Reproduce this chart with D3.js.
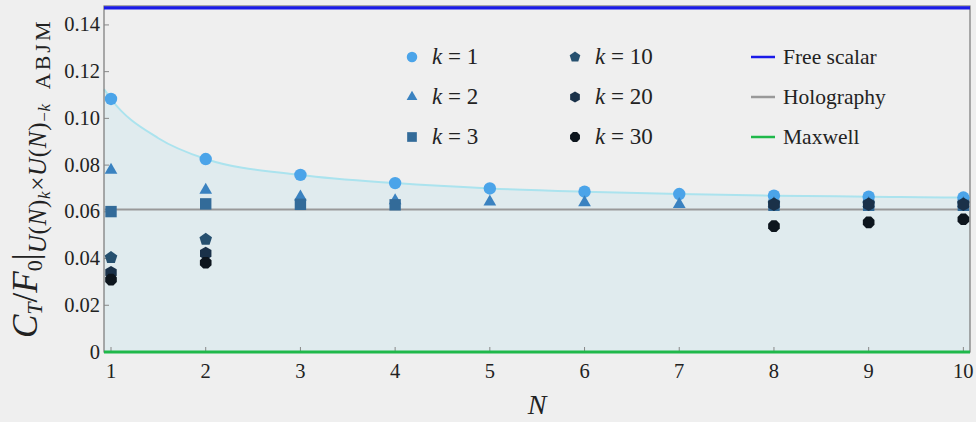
<!DOCTYPE html>
<html>
<head>
<meta charset="utf-8">
<script src="https://cdn.jsdelivr.net/npm/d3@7"></script>
<style>
    body { margin: 0; background: #efefef; }
    svg { display: block; }
</style>
</head>
<body>
<div id="chart"></div>
<script>
var width = 976, height = 422,
    nValues = [1, 2, 3, 4, 5, 6, 7, 8, 9, 10],
    xTicks = [1, 2, 3, 4, 5, 6, 7, 8, 9, 10],
    yTicks = [0, 0.02, 0.04, 0.06, 0.08, 0.10, 0.12, 0.14],
    // k = 1 .. 30 values (null = not shown)
    k1 = [0.1083, 0.0826, 0.0758, 0.0723, 0.0700, 0.0686, 0.0676, 0.0669, 0.0665, 0.0661],
    k2 = [0.0779, 0.0693, 0.0664, 0.0648, 0.0643, 0.0640, 0.0632, 0.0636, 0.0636, 0.0636],
    k3 = [0.0601, 0.0634, 0.0632, 0.0630, null, null, null, 0.0628, 0.0628, 0.0628],
    k10 = [0.0404, 0.0482, null, null, null, null, null, 0.0634, 0.0634, 0.0634],
    k20 = [0.0340, 0.0422, null, null, null, null, null, 0.0632, 0.0632, 0.0632],
    k30 = [0.0310, 0.0382, null, null, null, null, null, 0.0539, 0.0555, 0.0568],
    // fitted curve through k = 1
    fitN = [0.926, 1, 1.5, 2, 3, 4, 5, 6, 7, 8, 9, 10, 10.07],
    fitC = [0.1125, 0.1083, 0.0915, 0.0826, 0.0758, 0.0723, 0.0700, 0.0686, 0.0676, 0.0669, 0.0665, 0.0661, 0.0660],
    freeScalar = 0.1473,
    holography = 0.0610,
    maxwell = 0;

var series = [
    { label: '1', values: k1, shape: 'circle', color: '#4ba4e9' },
    { label: '2', values: k2, shape: 'triangle', color: '#3a82c0' },
    { label: '3', values: k3, shape: 'square', color: '#336b99' },
    { label: '10', values: k10, shape: 'pentagon', color: '#26506f' },
    { label: '20', values: k20, shape: 'hexagon', color: '#1a3149' },
    { label: '30', values: k30, shape: 'octagon', color: '#0d151d' }
];

var lines = [
    { label: 'Free scalar', value: freeScalar, color: '#1a1ae8' },
    { label: 'Holography', value: holography, color: '#999999' },
    { label: 'Maxwell', value: maxwell, color: '#1fb84a' }
];

var FONT = "'Liberation Serif'";

var x = d3.scaleLinear().domain([0.926, 10.07]).range([104, 970]);
var y = d3.scaleLinear().domain([0, 0.1481]).range([352, 6]);

var svg = d3.select('#chart').append('svg')
    .attr('width', width)
    .attr('height', height);

// marker shapes
function polygon(n, r, rot) {
    let pts = d3.range(n).map(i => {
        let a = rot + i * 2 * Math.PI / n;
        return [r * Math.sin(a), -r * Math.cos(a)];
    });
    return 'M' + pts.join('L') + 'Z';
}

function marker(shape, s) {
    if (shape === 'circle') return d3.symbol(d3.symbolCircle, Math.PI * 6.2 * 6.2 * s * s)();
    if (shape === 'triangle') return d3.symbol(d3.symbolTriangle, 70 * s * s)();
    if (shape === 'square') return d3.symbol(d3.symbolSquare, 130 * s * s)();
    if (shape === 'pentagon') return polygon(5, 6.6 * s, 0);
    if (shape === 'hexagon') return polygon(6, 6.6 * s, 0);
    return polygon(8, 6.3 * s, Math.PI / 8);
}

function addText(sel) {
    return sel.append('text').style('font-family', FONT).attr('fill', '#222');
}

// fill under fit
let fitData = fitN.map((n, i) => [n, fitC[i]]);
svg.append('path')
    .datum(fitData)
    .attr('fill', '#e0ebee')
    .attr('d', d3.area().x(d => x(d[0])).y0(y(0)).y1(d => y(d[1])).curve(d3.curveMonotoneX));

svg.append('path')
    .datum(fitData)
    .attr('fill', 'none')
    .attr('stroke', '#abe3ee')
    .attr('stroke-width', 2)
    .attr('d', d3.line().x(d => x(d[0])).y(d => y(d[1])).curve(d3.curveMonotoneX));

// frame
svg.append('rect')
    .attr('x', x.range()[0])
    .attr('y', y.range()[1])
    .attr('width', x.range()[1] - x.range()[0])
    .attr('height', y.range()[0] - y.range()[1])
    .attr('fill', 'none')
    .attr('stroke', '#777')
    .attr('stroke-width', 1.2);

// ticks
svg.append('g').selectAll('line')
    .data(yTicks)
    .enter().append('line')
    .attr('x1', x.range()[0]).attr('x2', x.range()[0] + 5)
    .attr('y1', d => y(d)).attr('y2', d => y(d))
    .attr('stroke', '#888');

svg.append('g').selectAll('text')
    .data(yTicks)
    .enter().append('text')
    .style('font-family', FONT)
    .attr('fill', '#222')
    .attr('x', 100)
    .attr('y', d => y(d) + 6.5)
    .attr('text-anchor', 'end')
    .style('font-size', '20.5px')
    .text(d => d === 0 ? '0' : d.toFixed(2));

svg.append('g').selectAll('line')
    .data(xTicks)
    .enter().append('line')
    .attr('x1', d => x(d)).attr('x2', d => x(d))
    .attr('y1', y.range()[0]).attr('y2', y.range()[0] - 5)
    .attr('stroke', '#888');

svg.append('g').selectAll('text')
    .data(xTicks)
    .enter().append('text')
    .style('font-family', FONT)
    .attr('fill', '#222')
    .attr('x', d => x(d))
    .attr('y', 378)
    .attr('text-anchor', 'middle')
    .style('font-size', '20.5px')
    .text(d => d);

// reference lines
lines.forEach(l => {
    svg.append('line')
        .attr('x1', x.range()[0]).attr('x2', x.range()[1])
        .attr('y1', y(l.value)).attr('y2', y(l.value))
        .attr('stroke', l.color)
        .attr('stroke-width', l.label === 'Holography' ? 2.2 : 3.2);
});

// points
series.forEach(s => {
    svg.append('g').selectAll('path')
        .data(nValues.map((n, i) => [n, s.values[i]]).filter(d => d[1] !== null))
        .enter().append('path')
        .attr('transform', d => 'translate(' + x(d[0]) + ',' + y(d[1]) + ')')
        .attr('d', marker(s.shape, 1))
        .attr('fill', s.color);
});

// legend: markers
series.forEach((s, i) => {
    let col = Math.floor(i / 3), row = i % 3;
    let lx = col ? 575 : 412, ly = 57 + row * 40;
    svg.append('path')
        .attr('transform', 'translate(' + lx + ',' + ly + ')')
        .attr('d', marker(s.shape, 0.85))
        .attr('fill', s.color);
    let t = addText(svg)
        .attr('x', lx + 20)
        .attr('y', ly + 7)
        .style('font-size', '23px');
    t.append('tspan').style('font-style', 'italic').text('k');
    t.append('tspan').text(' = ' + s.label);
});

// legend: lines
lines.forEach((l, i) => {
    let ly = 57 + i * 40;
    svg.append('line')
        .attr('x1', 751).attr('x2', 775)
        .attr('y1', ly).attr('y2', ly)
        .attr('stroke', l.color)
        .attr('stroke-width', 2.5);
    addText(svg)
        .attr('x', 783)
        .attr('y', ly + 6.5)
        .style('font-size', '21.5px')
        .text(l.label);
});

// axis labels
addText(svg)
    .attr('x', 537)
    .attr('y', 414)
    .attr('text-anchor', 'middle')
    .style('font-size', '28px')
    .style('font-style', 'italic')
    .text('N');

let yl = addText(svg)
    .attr('transform', 'translate(37,338) rotate(-90)')
    .style('font-size', '35px');
yl.append('tspan').style('font-style', 'italic').text('C');
yl.append('tspan').style('font-style', 'italic').style('font-size', '22px').attr('dy', 5).text('T');
yl.append('tspan').attr('dy', -5).text('/');
yl.append('tspan').style('font-style', 'italic').text('F');
yl.append('tspan').style('font-size', '22px').attr('dy', 5).text('0');
yl.append('tspan').attr('dy', -5).text('|');
let sub = yl.append('tspan').attr('dy', 9).style('font-size', '25px').style('letter-spacing', '0.7px');
sub.append('tspan').style('font-style', 'italic').text('U');
sub.append('tspan').text('(');
sub.append('tspan').style('font-style', 'italic').text('N');
sub.append('tspan').text(')');
sub.append('tspan').style('font-style', 'italic').style('font-size', '17px').attr('dy', 4).text('k');
sub.append('tspan').attr('dy', -4).text('×');
sub.append('tspan').style('font-style', 'italic').text('U');
sub.append('tspan').text('(');
sub.append('tspan').style('font-style', 'italic').text('N');
sub.append('tspan').text(')');
sub.append('tspan').style('font-size', '17px').attr('dy', 4).text('−');
sub.append('tspan').style('font-style', 'italic').style('font-size', '17px').text('k');
sub.append('tspan').style('font-size', '22px').style('letter-spacing', '3px').text('\u2002ABJM');
</script>
</body>
</html>
